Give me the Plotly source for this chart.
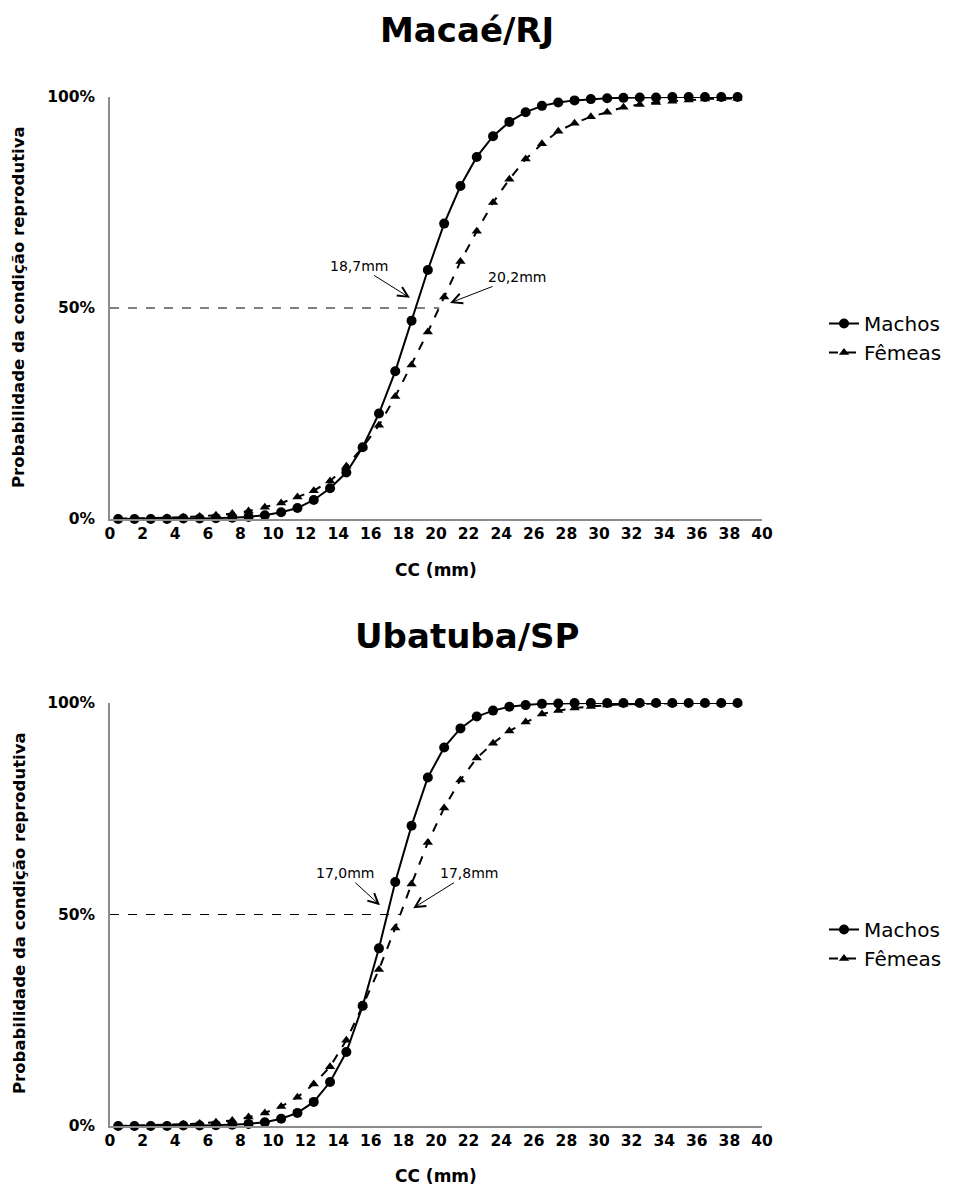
import plotly.graph_objects as go

# ---------------- data ----------------
cc = [0.5, 1.5, 2.5, 3.5, 4.5, 5.5, 6.5, 7.5, 8.5, 9.5,
      10.5, 11.5, 12.5, 13.5, 14.5, 15.5, 16.5, 17.5, 18.5, 19.5,
      20.5, 21.5, 22.5, 23.5, 24.5, 25.5, 26.5, 27.5, 28.5, 29.5,
      30.5, 31.5, 32.5, 33.5, 34.5, 35.5, 36.5, 37.5, 38.5]

macae_machos = [0.000, 0.000, 0.000, 0.000, 0.001, 0.001, 0.002, 0.003, 0.005, 0.009,
                0.016, 0.026, 0.045, 0.073, 0.110, 0.170, 0.250, 0.350, 0.470, 0.590,
                0.700, 0.789, 0.858, 0.907, 0.941, 0.964, 0.979, 0.987, 0.992, 0.995,
                0.997, 0.998, 0.999, 0.999, 1.000, 1.000, 1.000, 1.000, 1.000]

macae_femeas = [0.001, 0.001, 0.002, 0.003, 0.004, 0.006, 0.009, 0.013, 0.019, 0.028,
                0.038, 0.052, 0.067, 0.090, 0.125, 0.170, 0.222, 0.290, 0.365, 0.443,
                0.526, 0.610, 0.682, 0.750, 0.805, 0.853, 0.889, 0.919, 0.938, 0.953,
                0.964, 0.976, 0.982, 0.987, 0.990, 0.993, 0.995, 0.996, 0.997]

ubatuba_machos = [0.000, 0.000, 0.000, 0.000, 0.001, 0.001, 0.002, 0.003, 0.005, 0.009,
                  0.017, 0.031, 0.057, 0.104, 0.175, 0.284, 0.420, 0.577, 0.710, 0.824,
                  0.895, 0.940, 0.968, 0.982, 0.991, 0.995, 0.998, 0.999, 1.000, 1.000,
                  1.000, 1.000, 1.000, 1.000, 1.000, 1.000, 1.000, 1.000, 1.000]

ubatuba_femeas = [0.000, 0.001, 0.001, 0.002, 0.004, 0.006, 0.009, 0.013, 0.021, 0.031,
                  0.046, 0.068, 0.099, 0.140, 0.203, 0.284, 0.370, 0.468, 0.572, 0.670,
                  0.752, 0.818, 0.870, 0.905, 0.934, 0.955, 0.974, 0.982, 0.988, 0.992,
                  0.995, 0.997, 0.998, 0.999, 0.999, 1.000, 1.000, 1.000, 1.000]

titles = ["Macaé/RJ", "Ubatuba/SP"]
l50_machos = [18.7, 17.0]
l50_femeas = [20.2, 17.8]
l50_machos_txt = ["18,7mm", "17,0mm"]
l50_femeas_txt = ["20,2mm", "17,8mm"]
series_names = ["Machos", "Fêmeas"]

x_ticks = list(range(0, 41, 2))
y_ticks = [0, 0.5, 1.0]
y_ticklabels = ["0%", "50%", "100%"]

# ---------------- layout helpers ----------------
W, H = 958, 1189
FONT = "DejaVu Sans, Verdana, sans-serif"


def py(pix):
    return 1 - pix / H


def px(pix):
    return pix / W


x_dom = [px(110), px(762)]
y_doms = [[py(519), py(97)], [py(1126), py(703)]]

fig = go.Figure()

panels = [(macae_machos, macae_femeas), (ubatuba_machos, ubatuba_femeas)]

for i, (m, f) in enumerate(panels):
    xa = "x" if i == 0 else "x2"
    ya = "y" if i == 0 else "y2"
    lg = "legend" if i == 0 else "legend2"
    # reference line at 50%
    fig.add_trace(go.Scatter(
        x=[0, l50_femeas[i]], y=[0.5, 0.5], mode="lines",
        line=dict(color="black", width=1, dash="dash"),
        showlegend=False, hoverinfo="skip", xaxis=xa, yaxis=ya))
    fig.add_trace(go.Scatter(
        x=cc, y=m, name=series_names[0], mode="lines+markers",
        line=dict(color="black", width=2),
        marker=dict(symbol="circle", size=10, color="black"),
        cliponaxis=False, xaxis=xa, yaxis=ya, legend=lg))
    fig.add_trace(go.Scatter(
        x=cc, y=f, name=series_names[1], mode="lines+markers",
        line=dict(color="black", width=2, dash="dash"),
        marker=dict(symbol="triangle-up", size=9, color="black"),
        cliponaxis=False, xaxis=xa, yaxis=ya, legend=lg))

axis_common = dict(showgrid=False, zeroline=False, showline=True, automargin=False,
                   linecolor="#8c8c8c", linewidth=1.5, ticks="",
                   tickfont=dict(family=FONT, size=15.5, color="black", weight="bold"))

legend_common = dict(xanchor="left", yanchor="top",
                     font=dict(family=FONT, size=20, color="black"),
                     bgcolor="rgba(0,0,0,0)", tracegroupgap=2)

fig.update_layout(
    width=W, height=H,
    margin=dict(l=0, r=0, t=0, b=0, autoexpand=False),
    paper_bgcolor="white", plot_bgcolor="white",
    font=dict(family=FONT, color="black"),
    xaxis=dict(domain=x_dom, anchor="y", range=[0, 40], tickvals=x_ticks, **axis_common),
    yaxis=dict(domain=y_doms[0], anchor="x", range=[0, 1], tickvals=y_ticks,
               ticktext=y_ticklabels, ticklabelstandoff=10, **axis_common),
    xaxis2=dict(domain=x_dom, anchor="y2", range=[0, 40], tickvals=x_ticks, **axis_common),
    yaxis2=dict(domain=y_doms[1], anchor="x2", range=[0, 1], tickvals=y_ticks,
                ticktext=y_ticklabels, ticklabelstandoff=10, **axis_common),
    legend=dict(x=px(824), y=py(304), **legend_common),
    legend2=dict(x=px(824), y=py(910), **legend_common),
)

annotations = []
title_y = [30, 636]
xtitle_y = [570, 1176]
ytitle_y = [307, 913]
for i in range(2):
    annotations.append(dict(text=titles[i], x=px(467), y=py(title_y[i]), xref="paper", yref="paper",
                            showarrow=False, xanchor="center", yanchor="middle",
                            font=dict(family=FONT, size=34, color="black", weight="bold")))
    annotations.append(dict(text="CC (mm)", x=px(436), y=py(xtitle_y[i]), xref="paper", yref="paper",
                            showarrow=False, xanchor="center", yanchor="middle",
                            font=dict(family=FONT, size=17, color="black", weight="bold")))
    annotations.append(dict(text="Probabilidade da condição reprodutiva", x=px(19), y=py(ytitle_y[i]),
                            xref="paper", yref="paper", showarrow=False, textangle=-90,
                            xanchor="center", yanchor="middle",
                            font=dict(family=FONT, size=16.5, color="black", weight="bold")))

# L50 arrow annotations: (panel, value, tip x offset, tip y, text, text offset px)
arrow_specs = [
    (0, l50_machos[0], -0.30, 0.524, l50_machos_txt[0], -51, -32),
    (0, l50_femeas[0], 0.66, 0.512, l50_femeas_txt[0], 67, -26),
    (1, l50_machos[1], -0.44, 0.522, l50_machos_txt[1], -35, -32),
    (1, l50_femeas[1], 0.80, 0.515, l50_femeas_txt[1], 56, -35),
]
for (p, xv, dx, yv, txt, ax, ay) in arrow_specs:
    xr = "x" if p == 0 else "x2"
    yr = "y" if p == 0 else "y2"
    annotations.append(dict(x=xv + dx, y=yv, xref=xr, yref=yr,
                            text=txt, showarrow=True, arrowhead=5, arrowsize=2, arrowwidth=1,
                            arrowcolor="black", ax=ax, ay=ay, standoff=0,
                            font=dict(family=FONT, size=14, color="black")))

fig.update_layout(annotations=annotations)

fig.write_html("out.html")
